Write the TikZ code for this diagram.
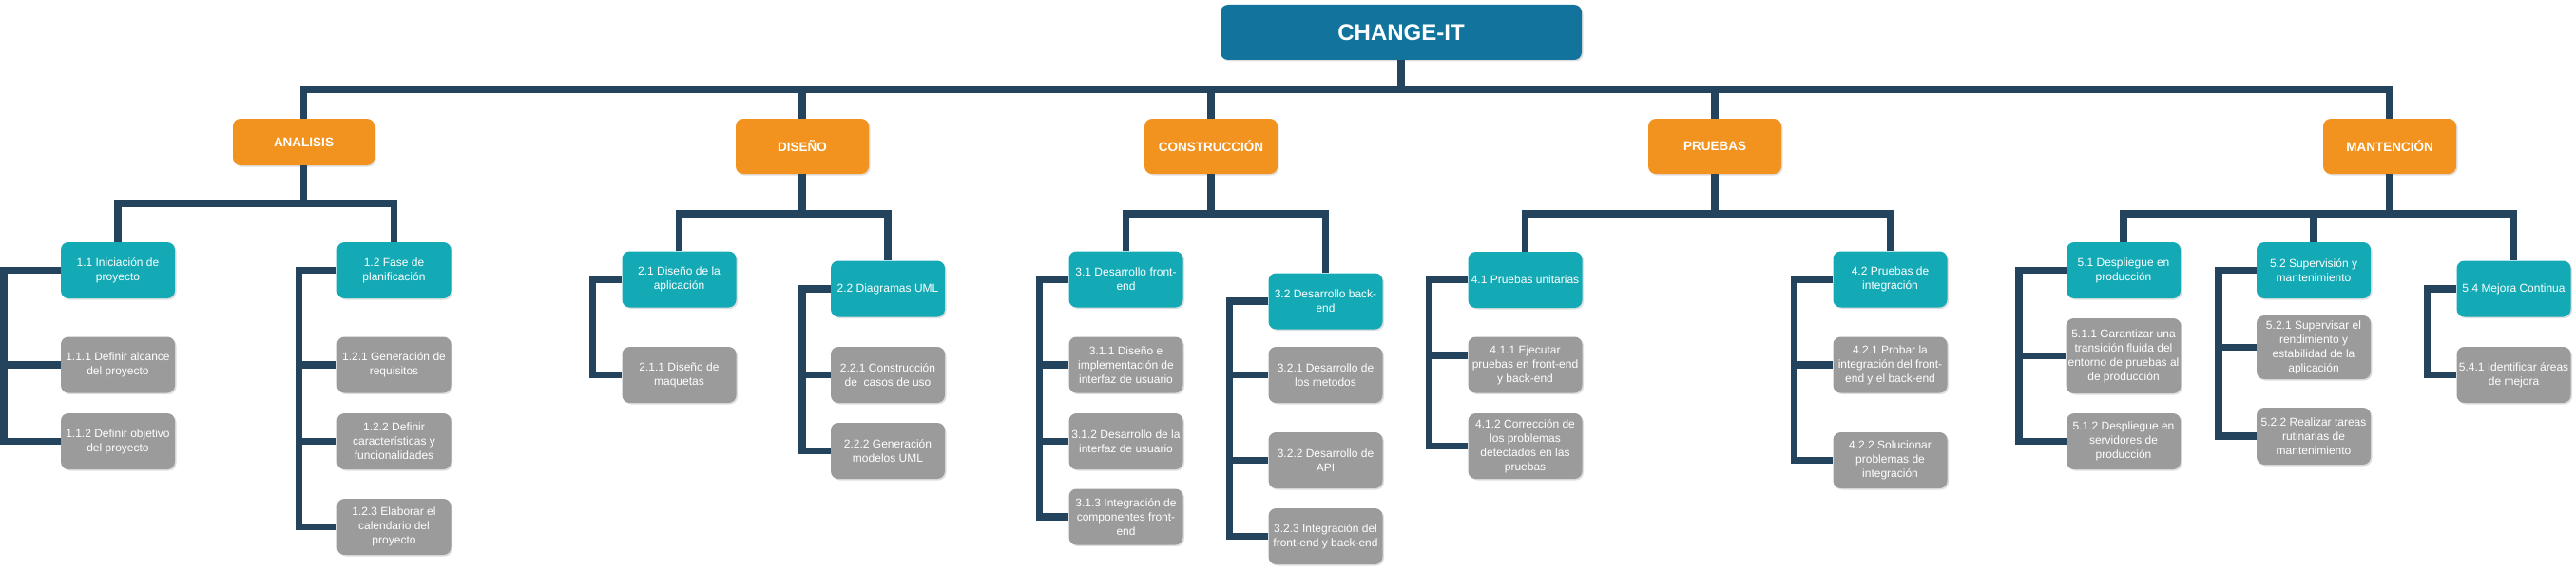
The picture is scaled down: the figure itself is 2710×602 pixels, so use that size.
\documentclass[tikz,border=0pt]{standalone}
\usepackage{fontspec}
\setmainfont{Liberation Sans}
\usetikzlibrary{shadows}
\definecolor{azulraiz}{RGB}{18,116,156}
\definecolor{naranja}{RGB}{242,147,31}
\definecolor{turquesa}{RGB}{19,170,182}
\definecolor{gris}{RGB}{155,155,155}
\definecolor{marino}{RGB}{36,68,93}
\tikzset{caja/.style={rectangle, rounded corners=8pt, text=white, align=center, inner sep=2pt, drop shadow={shadow xshift=1.5pt, shadow yshift=-1.5pt, opacity=0.25}}}
\tikzset{raiz/.style={caja, fill=azulraiz, minimum width=380pt, minimum height=58pt, font=\fontsize{24}{28}\selectfont\bfseries}}
\tikzset{fase/.style={caja, fill=naranja, minimum width=140pt, minimum height=58pt, font=\fontsize{13.5}{16}\selectfont\bfseries}}
\tikzset{paquete/.style={caja, fill=turquesa, minimum width=120pt, minimum height=59pt, font=\fontsize{12}{15}\selectfont}}
\tikzset{tarea/.style={caja, fill=gris, minimum width=120pt, minimum height=59pt, font=\fontsize{12}{15}\selectfont}}
\tikzset{enlace/.style={draw=marino, line width=7.5pt}}

\begin{document}
\begin{tikzpicture}[x=1pt, y=-1pt]
\useasboundingbox (0,0) rectangle (2710,602);

\node[raiz] (changeit) at (1474,34) {CHANGE-IT};

\node[fase, minimum width=149pt, minimum height=49pt] (analisis) at (319.5,149.5) {ANALISIS};
\node[fase] (diseno) at (844,154) {DISEÑO};
\node[fase] (construccion) at (1274,154) {CONSTRUCCIÓN};
\node[fase] (pruebas) at (1804,154) {PRUEBAS};
\node[fase] (mantencion) at (2514,154) {MANTENCIÓN};

\node[paquete] (p11) at (124,284.5) {1.1 Iniciación de\\proyecto};
\node[paquete] (p12) at (414.5,284.5) {1.2 Fase de\\planificación};
\node[paquete] (p21) at (714.5,294) {2.1 Diseño de la\\aplicación};
\node[paquete] (p22) at (934,304) {2.2 Diagramas UML};
\node[paquete] (p31) at (1184.5,294) {3.1 Desarrollo front-\\end};
\node[paquete] (p32) at (1394.5,317) {3.2 Desarrollo back-\\end};
\node[paquete] (p41) at (1604.5,294.5) {4.1 Pruebas unitarias};
\node[paquete] (p42) at (1988.5,294) {4.2 Pruebas de\\integración};
\node[paquete] (p51) at (2234,284.5) {5.1 Despliegue en\\producción};
\node[paquete] (p52) at (2434,284.5) {5.2 Supervisión y\\mantenimiento};
\node[paquete] (p54) at (2644.5,304) {5.4 Mejora Continua};

\node[tarea] (t111) at (124,384) {1.1.1 Definir alcance\\del proyecto};
\node[tarea] (t112) at (124,464.5) {1.1.2 Definir objetivo\\del proyecto};
\node[tarea] (t121) at (414.5,384) {1.2.1 Generación de\\requisitos};
\node[tarea] (t122) at (414.5,464.5) {1.2.2 Definir\\características y\\funcionalidades};
\node[tarea] (t123) at (414.5,554.5) {1.2.3 Elaborar el\\calendario del\\proyecto};
\node[tarea] (t211) at (714.5,394.5) {2.1.1 Diseño de\\maquetas};
\node[tarea] (t221) at (934,394.5) {2.2.1 Construcción\\de\ \ casos de uso};
\node[tarea] (t222) at (934,474.5) {2.2.2 Generación\\modelos UML};
\node[tarea] (t311) at (1184.5,384) {3.1.1 Diseño e\\implementación de\\interfaz de usuario};
\node[tarea] (t312) at (1184.5,464.5) {3.1.2 Desarrollo de la\\interfaz de usuario};
\node[tarea] (t313) at (1184.5,544) {3.1.3 Integración de\\componentes front-\\end};
\node[tarea] (t321) at (1394.5,394.5) {3.2.1 Desarrollo de\\los metodos};
\node[tarea] (t322) at (1394.5,484.5) {3.2.2 Desarrollo de\\API};
\node[tarea] (t323) at (1394.5,564.5) {3.2.3 Integración del\\front-end y back-end};
\node[tarea] (t411) at (1604.5,384) {4.1.1 Ejecutar\\pruebas en front-end\\y back-end};
\node[tarea, minimum height=69pt] (t412) at (1604.5,469.5) {4.1.2 Corrección de\\los problemas\\detectados en las\\pruebas};
\node[tarea] (t421) at (1988.5,384) {4.2.1 Probar la\\integración del front-\\end y el back-end};
\node[tarea] (t422) at (1988.5,484.5) {4.2.2 Solucionar\\problemas de\\integración};
\node[tarea, minimum height=79pt] (t511) at (2234,374.5) {5.1.1 Garantizar una\\transición fluida del\\entorno de pruebas al\\de producción};
\node[tarea] (t512) at (2234,464.5) {5.1.2 Despliegue en\\servidores de\\producción};
\node[tarea, minimum height=67pt] (t521) at (2434,365.5) {5.2.1 Supervisar el\\rendimiento y\\estabilidad de la\\aplicación};
\node[tarea, minimum height=60pt] (t522) at (2434,459) {5.2.2 Realizar tareas\\rutinarias de\\mantenimiento};
\node[tarea] (t541) at (2644.5,394.5) {5.4.1 Identificar áreas\\de mejora};

\foreach \f in {analisis,diseno,construccion,pruebas,mantencion}
    \draw[enlace] (changeit.south) -- ++(0,31) -| (\f.north);

\foreach \p in {p11,p12}
    \draw[enlace] (analisis.south) -- ++(0,40) -| (\p.north);
\foreach \f/\p in {diseno/p21,diseno/p22,construccion/p31,construccion/p32,pruebas/p41,pruebas/p42,mantencion/p51,mantencion/p52,mantencion/p54}
    \draw[enlace] (\f.south) -- ++(0,42) -| (\p.north);

\foreach \p/\d/\t in {p11/60/t111,p11/60/t112,p12/40/t121,p12/40/t122,p12/40/t123,
    p21/31/t211,p22/30/t221,p22/30/t222,
    p31/31/t311,p31/31/t312,p31/31/t313,p32/41/t321,p32/41/t322,p32/41/t323,
    p41/41/t412,p42/41/t421,p42/41/t422,
    p51/50/t511,p51/50/t512,p52/40/t521,p52/40/t522,p54/31/t541}
    \draw[enlace] (\p.west) -- ++(-\d,0) |- (\t.west);
\draw[enlace] (p41.west) -- ++(-41,0) |- ([yshift=10pt]t411.west);
\end{tikzpicture}
\end{document}
